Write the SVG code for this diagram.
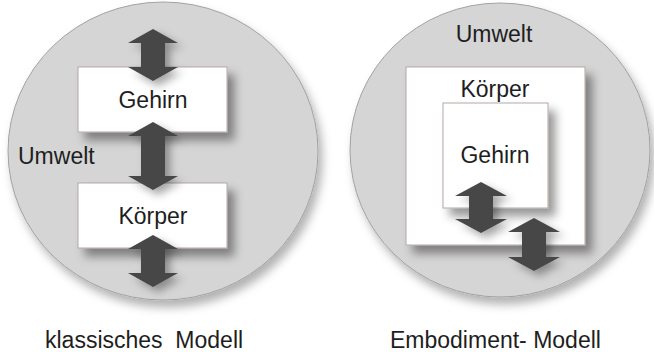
<svg xmlns="http://www.w3.org/2000/svg" width="654" height="352" viewBox="0 0 654 352">
<style>
.env{fill:#d5d5d5;stroke:#a89f9f;stroke-width:1;filter:url(#cs)}
.box{fill:#ffffff;stroke:#b3a7a3;stroke-width:1;filter:url(#bs)}
.arr{fill:#474747;filter:url(#as)}
text{font-family:"Liberation Sans",Arial,sans-serif;font-size:23px;fill:#1e1e1e}
.c{text-anchor:middle}
</style>
<defs>
<filter id="cs" x="-20%" y="-20%" width="140%" height="140%">
<feDropShadow dx="4" dy="7" stdDeviation="5" flood-color="#000" flood-opacity="0.3"/>
</filter>
<filter id="bs" x="-20%" y="-20%" width="150%" height="150%">
<feDropShadow dx="7" dy="8" stdDeviation="5" flood-color="#000" flood-opacity="0.4"/>
</filter>
<filter id="as" x="-30%" y="-30%" width="170%" height="170%">
<feDropShadow dx="5" dy="5" stdDeviation="4" flood-color="#000" flood-opacity="0.35"/>
</filter>
</defs>
<rect width="654" height="352" fill="#ffffff"/>

<g id="left-umwelt">
<ellipse class="env" cx="163" cy="151" rx="155" ry="149"/>
<text x="18" y="164">Umwelt</text>
</g>
<g id="left-gehirn">
<rect class="box" x="78" y="67" width="149" height="65"/>
<text class="c" x="153" y="107.5">Gehirn</text>
</g>
<g id="left-koerper">
<rect class="box" x="78" y="183" width="149" height="65"/>
<text class="c" x="153" y="223.5">Körper</text>
</g>

<g id="right-umwelt">
<ellipse class="env" cx="500" cy="150" rx="150" ry="147"/>
<text class="c" x="494" y="42">Umwelt</text>
</g>
<g id="right-koerper">
<rect class="box" x="406" y="67" width="179" height="178"/>
<text class="c" x="495" y="97">Körper</text>
</g>
<g id="right-gehirn">
<rect class="box" x="443" y="103" width="105" height="105"/>
<text class="c" x="495" y="163">Gehirn</text>
</g>

<g id="connectors">
<path class="arr" d="M153,29 L178,43 L165,43 L165,67 L178,67 L153,81 L128,67 L141,67 L141,43 L128,43 Z"/>
<path class="arr" d="M153,122 L178,136 L165,136 L165,176 L178,176 L153,190 L128,176 L141,176 L141,136 L128,136 Z"/>
<path class="arr" d="M153,235 L178,249 L165,249 L165,273 L178,273 L153,287 L128,273 L141,273 L141,249 L128,249 Z"/>
<path class="arr" d="M481,182 L507,196 L493,196 L493,219 L507,219 L481,233 L455,219 L469,219 L469,196 L455,196 Z"/>
<path class="arr" d="M534,218 L560,232 L546,232 L546,257 L560,257 L534,271 L508,257 L522,257 L522,232 L508,232 Z"/>
</g>

<g id="captions">
<text x="45" y="348" xml:space="preserve">klassisches  Modell</text>
<text x="390" y="348">Embodiment- Modell</text>
</g>
</svg>
